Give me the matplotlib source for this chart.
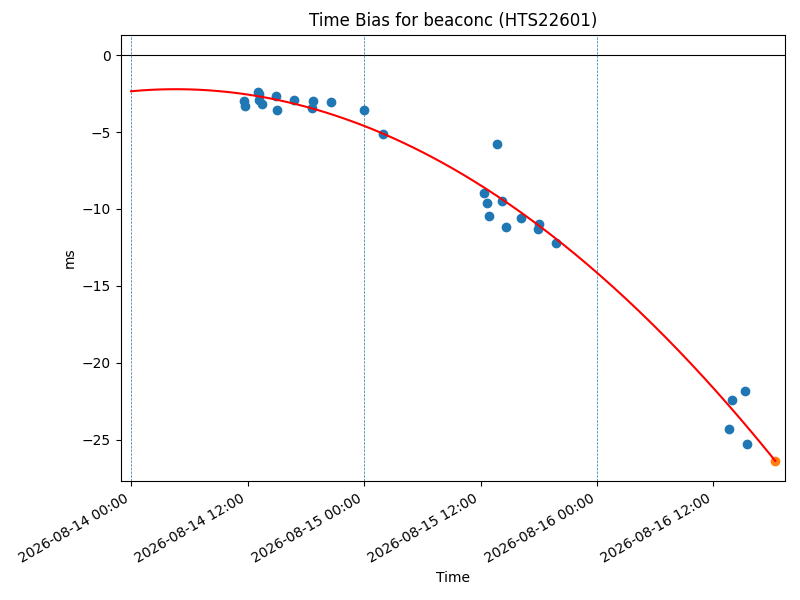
import numpy as np
import matplotlib
matplotlib.use("Agg")
import matplotlib.pyplot as plt
import matplotlib.dates as mdates
from datetime import datetime, timedelta

START = datetime(2026, 8, 14)

# hours since 2026-08-14 00:00 and measured time bias (ms)
obs_hours = [11.67, 11.77, 13.10, 13.20, 13.22, 13.52, 14.97, 15.07, 16.79,
             18.67, 18.78, 20.60, 23.97, 25.93, 36.36, 36.70, 36.85, 37.73,
             38.25, 38.66, 40.14, 41.96, 42.06, 43.78, 61.63, 61.94, 63.28,
             63.48]
obs_bias = [-2.98, -3.34, -2.43, -2.50, -2.91, -3.21, -2.69, -3.60, -2.93,
            -3.47, -2.99, -3.06, -3.58, -5.16, -8.98, -9.64, -10.44, -5.75,
            -9.51, -11.15, -10.61, -11.33, -10.98, -12.19, -24.30, -22.42,
            -21.83, -25.26]

# predicted point at the end of the fit
pred_hour = 66.37
pred_bias = -26.37

# quadratic fit coefficients (ms, ms/h, ms/h^2)
fit_coef = [-2.35, 0.0582, -0.00633]

midnights = [START + timedelta(days=d) for d in range(3)]


def to_time(hours):
    return [START + timedelta(hours=h) for h in hours]


fig, ax = plt.subplots(figsize=(8, 6))

ax.axhline(0, color="black", linewidth=0.8)
for m in midnights:
    ax.axvline(m, color="tab:blue", linestyle="--", linewidth=0.5)

t_fit = np.linspace(0, pred_hour, 200)
y_fit = fit_coef[0] + fit_coef[1] * t_fit + fit_coef[2] * t_fit ** 2
ax.plot(to_time(t_fit), y_fit, color="red")

ax.scatter(to_time(obs_hours), obs_bias)
ax.scatter(to_time([pred_hour]), [pred_bias])

ax.set_xlim(START - timedelta(hours=1.06), START + timedelta(hours=67.35))
ax.xaxis.set_major_formatter(mdates.DateFormatter("%Y-%m-%d %H:%M"))
ax.xaxis.set_major_locator(mdates.HourLocator(byhour=[0, 12]))

ax.set_title("Time Bias for beaconc (HTS22601)")
ax.set_xlabel("Time")
ax.set_ylabel("ms")
fig.autofmt_xdate()
fig.subplots_adjust(left=0.151, right=0.981, top=0.942, bottom=0.198)
plt.savefig("out.png", dpi=100)
